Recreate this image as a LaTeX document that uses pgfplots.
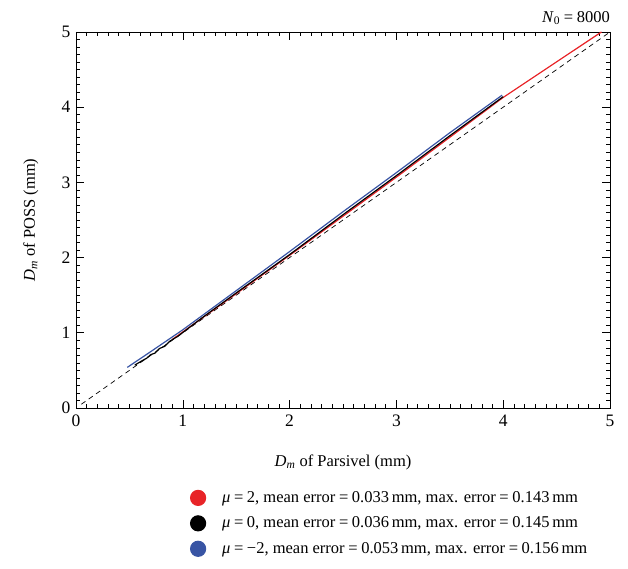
\documentclass[border=0pt]{standalone}
\usepackage{fontspec}
\setmainfont{Liberation Serif}
\usepackage{pgfplots}
\pgfplotsset{compat=1.18}
\definecolor{cred}{RGB}{232,36,40}
\definecolor{cblue}{RGB}{56,84,164}
\newcommand{\Dm}{\textit{D}\textsubscript{\textit{m}}}
\newcommand{\fs}{\fontsize{16.5}{19}\selectfont}
\newcommand{\eq}{\hspace{0.22em}=\hspace{0.22em}}
\begin{document}
\fs
\begin{tikzpicture}
\begin{axis}[
  scale only axis, width=534pt, height=376pt,
  xmin=0, xmax=5, ymin=0, ymax=5,
  xtick={0,1,2,3,4,5}, ytick={0,1,2,3,4,5},
  minor x tick num=9, minor y tick num=9,
  tick align=inside, major tick length=8pt, minor tick length=4pt,
  every tick/.style={black, line width=0.6pt},
  axis line style={line width=0.8pt},
  /pgf/number format/assume math mode=true,
  ticklabel style={font=\fontsize{17.5}{20}\selectfont},
  xticklabel style={yshift=-1pt},
  xlabel={\Dm{} of Parsivel (mm)},
  ylabel={\Dm{} of POSS (mm)},
  label style={font=\fs},
  xlabel style={yshift=-17pt},
  ylabel style={yshift=12pt},
  legend cell align=left,
  legend style={at={(0.2075,-0.21)}, anchor=north west, draw=none, fill=none,
    font=\fs, row sep=8pt},
  legend image code/.code={\fill[#1] (0pt,0pt) circle (7.5pt);
    \path[draw=none, fill=none] (0pt,0pt) -- (22pt,0pt);},
]
% 1:1 line
\addplot[black, dashed, line width=0.7pt, dash pattern=on 5pt off 4pt, forget plot]
  coordinates {(0.05,0.05)(5,5)};
% mu = 2
\addplot[cred, line width=1.2pt] coordinates {
  (0.9,0.91)(1.2,1.215)(1.5,1.52)(2,2.03)(2.5,2.55)(3,3.07)(3.5,3.6)
  (4,4.13)(4.46,4.565)(4.92,5.0)};
\addlegendentry{\textit{μ}\eq 2, mean error\eq 0.033\,mm, max. error\eq 0.143\,mm}
% mu = 0
\addplot[black, line width=1.2pt] coordinates {
  (0.55,0.57)(0.62,0.63)(0.66,0.66)(0.7,0.71)(0.74,0.73)(0.78,0.79)(0.83,0.82)
  (0.88,0.89)(0.95,0.95)(1.2,1.22)(1.5,1.53)(2,2.04)(2.5,2.57)(3,3.09)
  (3.5,3.62)(4.0,4.14)};
\addlegendentry{\textit{μ}\eq 0, mean error\eq 0.036\,mm, max. error\eq 0.145\,mm}
% mu = -2
\addplot[cblue, line width=1.2pt] coordinates {
  (0.48,0.54)(0.7,0.75)(1.0,1.04)(1.5,1.56)(2,2.08)(2.5,2.61)(3,3.13)
  (3.5,3.66)(3.99,4.16)};
\addlegendentry{\textit{μ}\eq −2, mean error\eq 0.053\,mm, max. error\eq 0.156\,mm}
\end{axis}
\node[anchor=south east, inner sep=0pt] at (534pt,383pt)
  {\textit{N}\textsubscript{0}\eq 8000};
\path (-76pt,-161pt) rectangle (552pt,408pt);
\end{tikzpicture}
\end{document}
